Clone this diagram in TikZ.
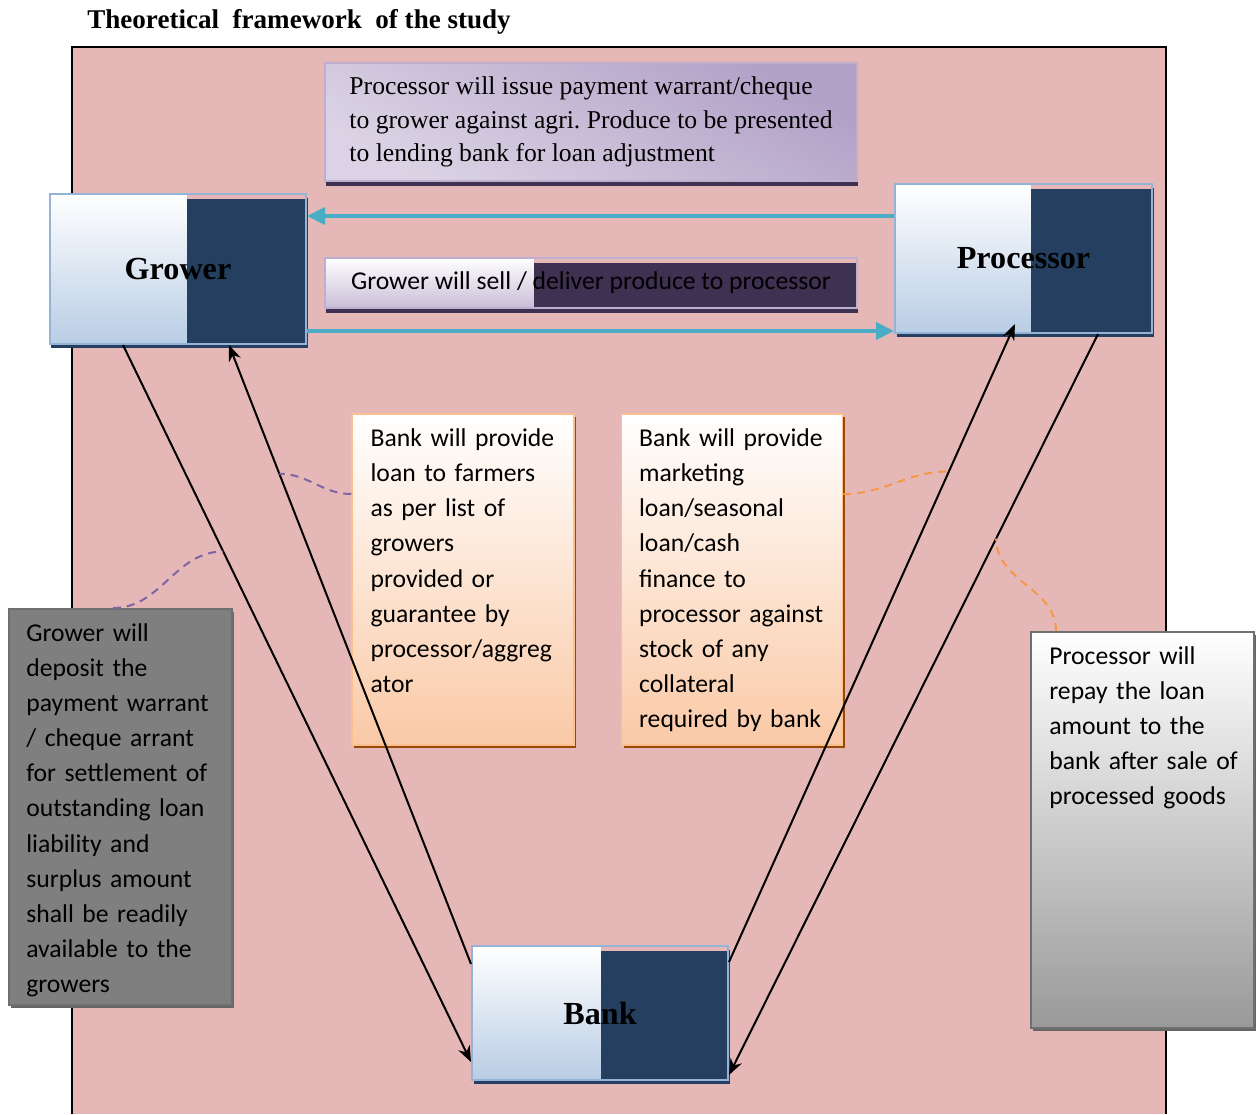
\documentclass[tikz,border=0pt]{standalone}
\usepackage{fontspec}
\setmainfont{Liberation Serif}
\newfontfamily\calibri{Carlito}
\usepackage{tikz}
\usetikzlibrary{arrows.meta,positioning,shadows,calc}

\definecolor{pinkbg}{HTML}{E5B8B7}
\definecolor{navy}{HTML}{243F60}
\definecolor{bluelow}{HTML}{B9CDE5}
\definecolor{blueedge}{HTML}{95B3D7}
\definecolor{flowcyan}{HTML}{4BACC6}
\definecolor{lilac}{HTML}{B2A1C7}
\definecolor{lilaclight}{HTML}{E5E0EC}
\definecolor{plum}{HTML}{3F3151}
\definecolor{dashpurple}{HTML}{8064A2}
\definecolor{peach}{HTML}{FAC9A6}
\definecolor{peachedge}{HTML}{FAC090}
\definecolor{rust}{HTML}{984807}
\definecolor{dashorange}{HTML}{F79646}
\definecolor{slate}{HTML}{7F7F7F}
\definecolor{slateedge}{HTML}{6F6F6F}
\definecolor{slatelow}{HTML}{999999}

\begin{document}
\begin{tikzpicture}[x=0.2mm, y=-0.2mm,
  halfdark/.style 2 args={path picture={
    \fill[pinkbg] ($(path picture bounding box.north west)!#1!(path picture bounding box.north east)$) rectangle (path picture bounding box.south east);
    \fill[#2] ($(path picture bounding box.north west)!#1!(path picture bounding box.north east)+(0,-1mm)$) rectangle (path picture bounding box.south east);}},
  entity/.style={draw=blueedge, line width=0.4mm, top color=white, bottom color=bluelow,
    minimum width=51.2mm, font=\fontsize{18.3}{22}\selectfont\bfseries, halfdark={#1}{navy},
    drop shadow={shadow xshift=0.3mm, shadow yshift=-0.8mm, fill=navy, opacity=1}},
  memo/.style={draw=lilac!85!white, line width=0.4mm, inner sep=0pt, minimum width=106.4mm, align=left,
    drop shadow={shadow xshift=0.2mm, shadow yshift=-0.9mm, fill=plum, opacity=1}},
  note/.style={draw=peachedge, line width=0.3mm, top color=white, bottom color=peach,
    minimum width=44.4mm, minimum height=66.2mm,
    drop shadow={shadow xshift=0.4mm, shadow yshift=-0.6mm, fill=rust, opacity=1}},
  slatebox/.style={draw=slateedge, line width=0.4mm, minimum width=44.6mm, minimum height=79.2mm,
    drop shadow={shadow xshift=0.4mm, shadow yshift=-0.6mm, fill=black!60, opacity=1}},
  notetext/.style={inner sep=0pt, align=left, text width=40mm, font=\calibri\fontsize{14.6}{20}\selectfont},
  flow/.style={draw=flowcyan, line width=0.8mm, -{Triangle[length=3.6mm,width=3.4mm]}},
  link/.style={line width=0.4mm, -{Stealth[length=3.2mm,width=2.5mm]}},
  callout/.style={line width=0.4mm, dash pattern=on 1.6mm off 1.2mm}
]
  \useasboundingbox (0,0) rectangle (1256,1114);

  % frame and title
  \fill[pinkbg] (72,47) rectangle (1166,1114);
  \draw[line width=0.25mm] (72,1114) -- (72,47) -- (1166,47) -- (1166,1114);
  \node[anchor=base west, inner sep=0pt, font=\fontsize{15.4}{18}\selectfont\bfseries] (title) at (87,28)
    {Theoretical\ \ framework\ \ of the study};

  % messages between grower and processor
  \node[memo, minimum height=23.6mm, font=\frenchspacing\fontsize{14.6}{19}\selectfont,
    top color=lilac, middle color=lilac!90!lilaclight, bottom color=lilaclight!80!lilac, shading angle=-30] (warrant) at (591,122)
    {Processor will issue payment warrant/cheque\\ to grower against agri. Produce to be presented\\ to lending bank for loan adjustment};
  \node[memo, minimum height=10mm, font=\calibri\fontsize{14.6}{18}\selectfont,
    top color=white, bottom color=lilac!70!white, halfdark={.393}{plum}, below=15mm of warrant] (sell)
    {Grower will sell / deliver produce to processor};

  % parties
  \node[entity=.535, minimum height=30mm] (grower) at (178,269) {Grower};
  \node[entity=.529, minimum width=51.4mm, minimum height=29.8mm] (processor) at (1023.5,258.5) {Processor};
  \node[entity=.504, minimum height=26.8mm] (bank) at (600,1013) {Bank};

  % bank loans
  \node[note] (farmloan) at (463,579.5) {};
  \node[notetext, below right=3mm and 3.8mm of farmloan.north west] (farmloantxt)
    {Bank will provide\\ loan to farmers\\ as per list of\\ growers\\ provided or\\ guarantee by\\ processor/aggreg\\ ator};
  \node[note, minimum width=44.2mm, right=9.2mm of farmloan] (procloan) {};
  \node[notetext, below right=3mm and 3.6mm of procloan.north west] (procloantxt)
    {Bank will provide\\ marketing\\ loan/seasonal\\ loan/cash\\ finance to\\ processor against\\ stock of any\\ collateral\\ required by bank};

  % repayments
  \node[slatebox, fill=slate] (deposit) at (120.5,807) {};
  \node[notetext, below right=3mm and 3.6mm of deposit.north west] (deposittxt)
    {Grower will\\ deposit the\\ payment warrant\\ / cheque arrant\\ for settlement of\\ outstanding loan\\ liability and\\ surplus amount\\ shall be readily\\ available to the\\ growers};
  \node[slatebox, top color=white, bottom color=slatelow] (repay) at (1142.5,830) {};
  \node[notetext, below right=3mm and 3.8mm of repay.north west] (repaytxt)
    {Processor will\\ repay the loan\\ amount to the\\ bank after sale of\\ processed goods};

  % produce and payment flows
  \coordinate (pin) at ([yshift=8.5mm]processor.west);
  \coordinate (gout) at ([yshift=-12.4mm]grower.east);
  \draw[flow] (pin) -- (pin -| grower.east);
  \draw[flow] (gout) -- (gout -| processor.west);

  % money flows with the bank
  \draw[link] ([xshift=14.8mm]grower.south west) -- coordinate[pos=.288] (gb) ([yshift=-9.8mm]bank.west);
  \draw[link] ([yshift=-3.8mm]bank.north west) -- coordinate[pos=.792] (bg) ([xshift=36mm]grower.south west);
  \draw[link] ([yshift=-3.4mm]bank.north east) -- coordinate[pos=.769] (bp) ([xshift=24.2mm,yshift=2mm]processor.south west);
  \draw[link] ([xshift=40.8mm]processor.south west) -- coordinate[pos=.276] (pb) ([yshift=-12.4mm]bank.east);

  % callouts
  \draw[callout, dashpurple] ([yshift=17.1mm]farmloan.west) to[out=180,in=0] (bg);
  \draw[callout, dashpurple] ([xshift=-1.5mm]deposit.north) to[out=0,in=180] (gb);
  \draw[callout, dashorange] ([yshift=17.1mm]procloan.east) to[out=0,in=180] (bp);
  \draw[callout, dashorange] ([xshift=-17.3mm]repay.north) to[out=90,in=-90] (pb);
\end{tikzpicture}
\end{document}
